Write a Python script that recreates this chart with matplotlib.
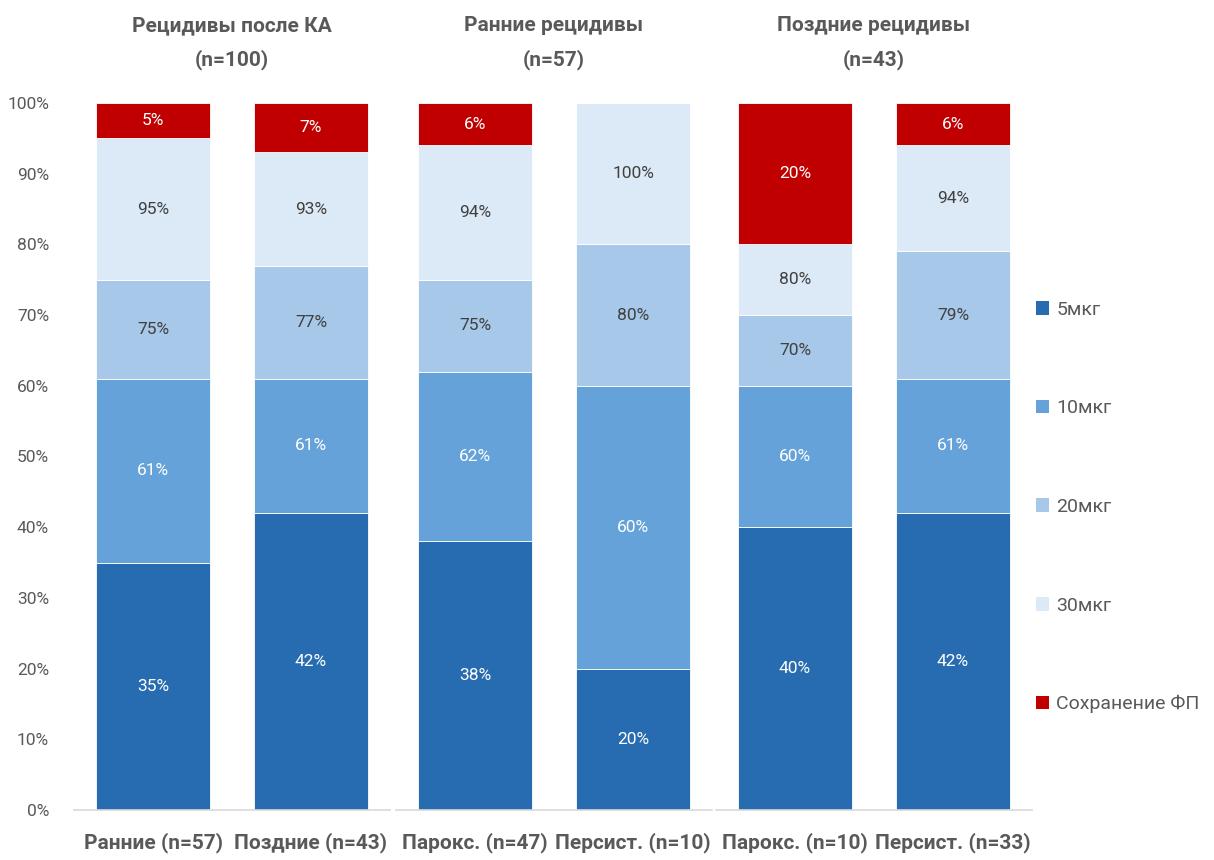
import matplotlib
matplotlib.use("Agg")
import matplotlib.pyplot as plt
from matplotlib.patches import Patch
from matplotlib import font_manager

# ---- data -------------------------------------------------------------
group_titles = ["Рецидивы после КА\n(n=100)", "Ранние рецидивы\n(n=57)", "Поздние рецидивы\n(n=43)"]
categories = ["Ранние (n=57)", "Поздние (n=43)",
              "Парокс. (n=47)", "Персист. (n=10)",
              "Парокс. (n=10)", "Персист. (n=33)"]
# cumulative share of patients in sinus rhythm by dose, %
cum_5 = [35, 42, 38, 20, 40, 42]
cum_10 = [61, 61, 62, 60, 60, 61]
cum_20 = [75, 77, 75, 80, 70, 79]
cum_30 = [95, 93, 94, 100, 80, 94]
# persistent AF, %
af_kept = [5, 7, 6, 0, 20, 6]

series_names = ["5мкг", "10мкг", "20мкг", "30мкг", "Сохранение ФП"]
colors = ["#276BB0", "#64A2D9", "#A7C8E9", "#DCE9F6", "#C00000"]
label_colors = ["white", "white", "#404040", "#404040", "white"]
yticks = [0, 10, 20, 30, 40, 50, 60, 70, 80, 90, 100]

# ---- fonts ------------------------------------------------------------
available = {f.name for f in font_manager.fontManager.ttflist}
main_font = "Liberation Sans Narrow" if "Liberation Sans Narrow" in available else "Roboto"
plt.rcParams["font.family"] = [main_font, "DejaVu Sans"]
gray = "#595959"

W, H = 1214, 860
fig = plt.figure(figsize=(W / 100, H / 100), dpi=100)

ax_left = [74, 396, 716]
ax_w = 316
ax_bottom, ax_top = 810, 103

# segment bottoms/heights built from the cumulative values
levels = [cum_5, cum_10, cum_20, cum_30]
for g in range(3):
    ax = fig.add_axes([ax_left[g] / W, 1 - ax_bottom / H, ax_w / W, (ax_bottom - ax_top) / H])
    idx = [2 * g, 2 * g + 1]
    x = [0, 1]
    for i in idx:
        xi = i - 2 * g
        prev = 0
        segs = []
        for lv in levels:
            segs.append((prev, lv[i] - prev, lv[i]))
            prev = lv[i]
        segs.append((prev, af_kept[i], af_kept[i]))
        for s, (bottom, height, lab) in enumerate(segs):
            if height <= 0:
                continue
            ax.bar(xi, height, bottom=bottom, width=0.72, color=colors[s],
                   edgecolor="white", linewidth=0.6)
            ax.text(xi, bottom + height / 2, f"{lab}%", ha="center", va="center",
                    fontsize=12.5, color=label_colors[s])
    ax.set_xlim(-0.5, 1.5)
    ax.set_ylim(0, 100)
    ax.set_xticks(x)
    ax.set_xticklabels([categories[i] for i in idx], fontsize=15, fontweight="bold", color=gray)
    ax.tick_params(axis="x", length=0, pad=16)
    for sp in ["top", "right", "left"]:
        ax.spines[sp].set_visible(False)
    ax.spines["bottom"].set_color("#D9D9D9")
    ax.spines["bottom"].set_linewidth(1.2)
    if g == 0:
        ax.set_yticks(yticks)
        ax.set_yticklabels([f"{t}%" for t in yticks], fontsize=12.5, color=gray)
        ax.tick_params(axis="y", length=0, pad=18)
    else:
        ax.set_yticks([])
    ax.text(0.5, 1.085, group_titles[g], transform=ax.transAxes, ha="center", va="center",
            fontsize=15, fontweight="bold", color=gray, linespacing=1.85)

handles = [Patch(facecolor=c, edgecolor="none") for c in colors]
fig.legend(handles, series_names, loc="center left",
           bbox_to_anchor=(1028 / W, 1 - 507 / H), frameon=False,
           fontsize=14, labelcolor=gray, handlelength=0.7, handleheight=0.7,
           handletextpad=0.35, labelspacing=4.15, borderaxespad=0)

fig.savefig("out.png", dpi=100)
